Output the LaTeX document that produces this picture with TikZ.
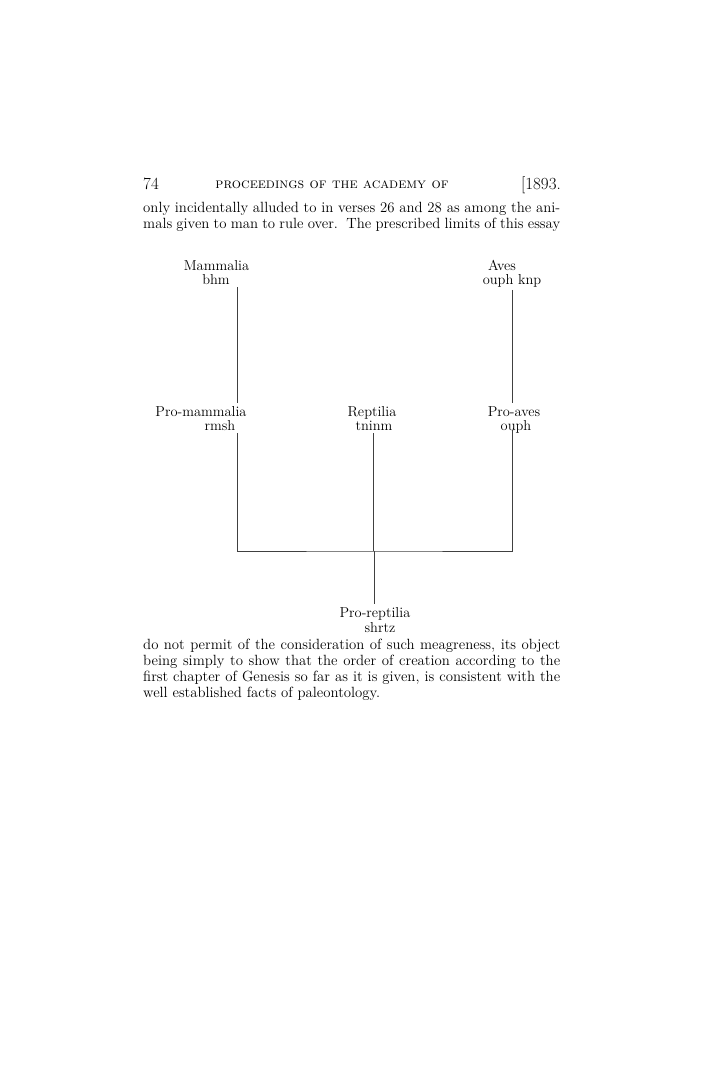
\documentclass[tikz,border=0pt]{standalone}
\usepackage{fontspec}
\usepackage{tikz}
\usetikzlibrary{positioning}

\tikzset{
  body/.style={font=\fontsize{14.8}{16}\selectfont, inner sep=0pt},
  para/.style={body, text width=417pt, align=justify, anchor=base west},
  taxon/.style={font=\fontsize{14.4}{15}\selectfont, inner sep=0pt, outer sep=3pt, anchor=base},
  branch/.style={line width=0.6pt, black!75}
}

\begin{document}
\begin{tikzpicture}[x=1pt, y=-1pt]
    \useasboundingbox (0,0) rectangle (702,1080);
    % === Running head ===
    \node[font=\fontsize{17}{18}\selectfont, inner sep=0pt, anchor=base west] (pageno) at (143,189) {74};
    \node[font=\fontsize{14.5}{16}\selectfont, inner sep=0pt, anchor=base] (runhead) at (332,188) {\textsc{proceedings of the academy of}};
    \node[font=\fontsize{17}{18}\selectfont, inner sep=0pt, anchor=base east] (year) at (561,189) {[1893.};
    % === Text before the table ===
    \node[para] (textabove) at (143,212) {\parfillskip=0pt only incidentally alluded to in verses 26 and 28 as among the ani-\linebreak mals given to man to rule over.\ \ The prescribed limits of this essay};
    % === Tree: top row ===
    \node[taxon] (mammalia) at (216.5,270) {Mammalia};
    \node[taxon] (bhm) at (216,284) {bhm};
    \node[taxon] (aves) at (502,270) {Aves};
    \node[taxon] (ouphknp) at (512,284) {ouph knp};
    % === Tree: middle row ===
    \node[taxon] (promammalia) at (201,416) {Pro-mammalia};
    \node[taxon] (rmsh) at (220,430) {rmsh};
    \node[taxon] (reptilia) at (372,416) {Reptilia};
    \node[taxon] (tninm) at (374,430) {tninm};
    \node[taxon] (proaves) at (514,416) {Pro-aves};
    \node[taxon] (ouph) at (516,430) {ouph};
    % === Tree: root ===
    \node[taxon] (proreptilia) at (375,617) {Pro-reptilia};
    \node[taxon] (shrtz) at (380,632) {shrtz};
    % stems sit off the label centres
    \coordinate (mamx) at (237,0);
    \coordinate (repx) at (373,0);
    \coordinate (avex) at (512,0);
    \coordinate (joint) at (374,551);
    \draw[branch] (bhm.south -| mamx) -- (promammalia.north -| mamx);
    \draw[branch] (ouphknp.south -| avex) -- (proaves.north -| avex);
    \draw[branch] (rmsh.south -| mamx) |- (joint) -| (ouph.base -| avex);
    \draw[branch] (tninm.south -| repx) -- (repx |- joint);
    \draw[branch] (joint) -- (proreptilia.north -| joint);
    % === Text after the table ===
    \node[para] (textbelow) at (143,649) {do not permit of the consideration of such meagreness, its object\linebreak being simply to show that the order of creation according to the\linebreak first chapter of Genesis so far as it is given, is consistent with the\linebreak well established facts of paleontology.};
\end{tikzpicture}
\end{document}
